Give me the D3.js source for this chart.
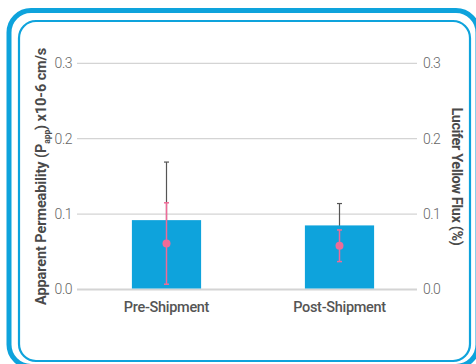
<!DOCTYPE html>
<html>
<head>
<meta charset="utf-8">
<script src="https://cdn.jsdelivr.net/npm/d3@7"></script>
<style>
  html, body { margin: 0; padding: 0; background: #fff; }
  svg { display: block; }
</style>
</head>
<body>
<script>
// Permeability (bars, left axis) and Lucifer Yellow flux (points, right axis)
const categories = ["Pre-Shipment", "Post-Shipment"];
const pappMean = [0.092, 0.085];
const pappErr = [0.077, 0.029];
const fluxMean = [0.061, 0.058];
const fluxErr = [0.054, 0.021];
const tickValues = [0.0, 0.1, 0.2, 0.3];

const W = 476, H = 364;
const blue = "#0ea3dc";
const pink = "#ef6b97";

const svg = d3.select("body").append("svg")
  .attr("width", W).attr("height", H);

// frame: thick outer outline and thin inner outline
svg.append("rect")
  .attr("x", 9).attr("y", 10.5)
  .attr("width", 469).attr("height", 356)
  .attr("rx", 22).attr("ry", 22)
  .attr("fill", "none").attr("stroke", blue).attr("stroke-width", 5);
svg.append("rect")
  .attr("x", 19).attr("y", 21)
  .attr("width", 451).attr("height", 340)
  .attr("rx", 17).attr("ry", 17)
  .attr("fill", "none").attr("stroke", blue).attr("stroke-width", 2.2);

const y = d3.scaleLinear().domain([0, 0.3]).range([289.5, 63.3]);
const yRight = d3.scaleLinear().domain([0, 0.3]).range([289.5, 63.3]);
const x = d3.scaleBand().domain(categories)
  .range([80, 426]).paddingInner(0.6).paddingOuter(0.3);

const gridX0 = 77, gridX1 = 417;

// gridlines
svg.append("g").selectAll("line").data(tickValues).join("line")
  .attr("x1", gridX0).attr("x2", gridX1)
  .attr("y1", d => y(d)).attr("y2", d => y(d))
  .attr("stroke", "#d4d4d4")
  .attr("stroke-width", d => d === 0 ? 2 : 1.3);

const tickFont = "Roboto, 'Open Sans', sans-serif";
const fmt = d3.format(".1f");

// left axis labels
const leftAxis = d3.axisLeft(y).tickValues(tickValues).tickFormat(fmt).tickSize(0).tickPadding(0);
const gl = svg.append("g").attr("transform", "translate(72,0)").call(leftAxis);
gl.select(".domain").remove();
gl.selectAll("text")
  .attr("font-family", tickFont).attr("font-weight", 300)
  .attr("font-size", 14).attr("fill", "#666")
  .attr("letter-spacing", -0.5);

// right axis labels
const rightAxis = d3.axisRight(yRight).tickValues(tickValues).tickFormat(fmt).tickSize(0).tickPadding(0);
const gr = svg.append("g").attr("transform", "translate(423,0)").call(rightAxis);
gr.select(".domain").remove();
gr.selectAll("text")
  .attr("font-family", tickFont).attr("font-weight", 300)
  .attr("font-size", 14).attr("fill", "#666")
  .attr("letter-spacing", -0.5);

const idx = categories.map((c, i) => i);
const cx = i => x(categories[i]) + x.bandwidth() / 2;

// permeability error bars (drawn behind bars)
const eb = svg.append("g").attr("stroke", "#555").attr("stroke-width", 1.2);
eb.selectAll("line.v").data(idx).join("line").attr("class", "v")
  .attr("x1", cx).attr("x2", cx)
  .attr("y1", i => y(pappMean[i] - pappErr[i]))
  .attr("y2", i => y(pappMean[i] + pappErr[i]));
eb.selectAll("line.cap").data(idx).join("line").attr("class", "cap")
  .attr("x1", i => cx(i) - 2.5).attr("x2", i => cx(i) + 2.5)
  .attr("y1", i => y(pappMean[i] + pappErr[i]))
  .attr("y2", i => y(pappMean[i] + pappErr[i]));

// bars
svg.append("g").selectAll("rect").data(idx).join("rect")
  .attr("x", i => x(categories[i]))
  .attr("width", x.bandwidth())
  .attr("y", i => y(pappMean[i]))
  .attr("height", i => y(0) - y(pappMean[i]) - 1)
  .attr("fill", blue);

// flux points with error bars
const fp = svg.append("g").attr("stroke", pink).attr("stroke-width", 1.5);
fp.selectAll("line.v").data(idx).join("line").attr("class", "v")
  .attr("x1", cx).attr("x2", cx)
  .attr("y1", i => yRight(fluxMean[i] - fluxErr[i]))
  .attr("y2", i => yRight(fluxMean[i] + fluxErr[i]));
fp.selectAll("line.top").data(idx).join("line").attr("class", "top")
  .attr("x1", i => cx(i) - 2.5).attr("x2", i => cx(i) + 2.5)
  .attr("y1", i => yRight(fluxMean[i] + fluxErr[i]))
  .attr("y2", i => yRight(fluxMean[i] + fluxErr[i]));
fp.selectAll("line.bot").data(idx).join("line").attr("class", "bot")
  .attr("x1", i => cx(i) - 2.5).attr("x2", i => cx(i) + 2.5)
  .attr("y1", i => yRight(fluxMean[i] - fluxErr[i]))
  .attr("y2", i => yRight(fluxMean[i] - fluxErr[i]));
svg.append("g").selectAll("circle").data(idx).join("circle")
  .attr("cx", cx).attr("cy", i => yRight(fluxMean[i]))
  .attr("r", 4).attr("fill", pink);

// category labels
svg.append("g").selectAll("text").data(categories).join("text")
  .attr("x", d => x(d) + x.bandwidth() / 2)
  .attr("y", 312)
  .attr("text-anchor", "middle")
  .attr("font-family", tickFont).attr("font-weight", 500)
  .attr("font-size", 14.5).attr("fill", "#555")
  .attr("letter-spacing", -0.3)
  .text(d => d);

// left axis title
const lt = svg.append("text")
  .attr("transform", `translate(46,${(y(0) + y(0.3)) / 2}) rotate(-90)`)
  .attr("text-anchor", "middle")
  .attr("font-family", tickFont).attr("font-weight", 700)
  .attr("font-size", 14.5).attr("fill", "#4a4a4a")
  .attr("letter-spacing", -0.1);
lt.append("tspan").text("Apparent Permeability (P");
lt.append("tspan").attr("font-size", 8.5).attr("dy", 3.5).text("app");
lt.append("tspan").attr("dy", -3.5).text(") x10-6 cm/s");

// right axis title
svg.append("text")
  .attr("transform", `translate(452,${(y(0) + y(0.3)) / 2}) rotate(90)`)
  .attr("text-anchor", "middle")
  .attr("font-family", tickFont).attr("font-weight", 700)
  .attr("font-size", 14.5).attr("fill", "#4a4a4a")
  .attr("letter-spacing", -0.4)
  .text("Lucifer Yellow Flux (%)");
</script>
</body>
</html>
